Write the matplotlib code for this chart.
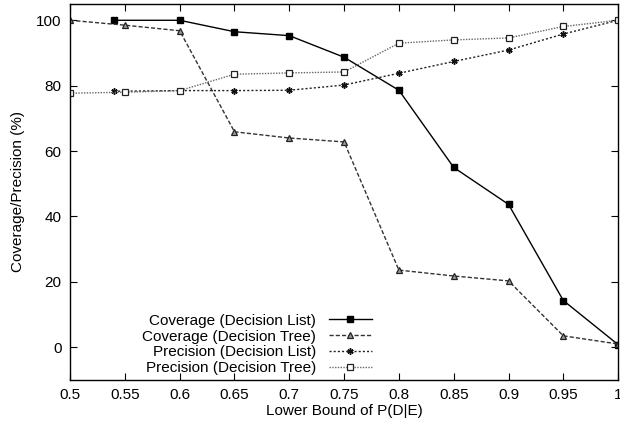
import matplotlib
matplotlib.use("Agg")
from matplotlib import pyplot as plt

plt.rcParams["font.family"] = ["Liberation Sans", "DejaVu Sans"]
plt.rcParams["font.size"] = 11

# data
x_dl = [0.54, 0.6, 0.65, 0.7, 0.75, 0.8, 0.85, 0.9, 0.95, 1.0]
x_dt = [0.5, 0.55, 0.6, 0.65, 0.7, 0.75, 0.8, 0.85, 0.9, 0.95, 1.0]

coverage_dl = [100, 100, 96.5, 95.3, 88.7, 78.6, 55.0, 43.7, 14.3, 0.8]
coverage_dt = [100, 98.5, 96.8, 65.9, 64.0, 62.8, 23.6, 21.8, 20.3, 3.5, 1.0]
precision_dl = [78.3, 78.5, 78.5, 78.6, 80.2, 83.8, 87.4, 90.9, 95.8, 100]
precision_dt = [77.7, 78.0, 78.5, 83.5, 83.9, 84.2, 93.0, 94.0, 94.6, 98.1, 100]

xticks = [0.5, 0.55, 0.6, 0.65, 0.7, 0.75, 0.8, 0.85, 0.9, 0.95, 1.0]
xtick_labels = ["0.5", "0.55", "0.6", "0.65", "0.7", "0.75", "0.8", "0.85", "0.9", "0.95", "1"]
yticks = [0, 20, 40, 60, 80, 100]

fig = plt.figure(figsize=(6.2, 4.23), dpi=100)
ax = fig.add_axes([0.113, 0.1017, 0.884, 0.889])

ax.plot(x_dl, coverage_dl, color="black", lw=1.0, ls="-",
        marker="s", ms=4.5, mfc="black", mec="black",
        label="Coverage (Decision List)")
ax.plot(x_dt, coverage_dt, color="#333333", lw=1.0, ls=(0, (3, 1.5)),
        marker="^", ms=4.5, mfc="#999999", mec="#222222", mew=0.9,
        label="Coverage (Decision Tree)")
ax.plot(x_dl, precision_dl, color="#222222", lw=1.0, ls=(0, (1.5, 1.5)),
        marker=(6, 2, 0), ms=4.5, mec="#111111", mew=1.1,
        label="Precision (Decision List)")
ax.plot(x_dt, precision_dt, color="#666666", lw=1.0, ls=(0, (1, 1)),
        marker="s", ms=4.5, mfc="white", mec="#222222", mew=0.9,
        label="Precision (Decision Tree)")

ax.set_xlim(0.5, 1.0)
ax.set_ylim(-10, 105)
ax.set_xticks(xticks)
ax.set_xticklabels(xtick_labels)
ax.set_yticks(yticks)
ax.tick_params(direction="in", top=True, right=True, length=5, width=0.8, pad=6)
for s in ax.spines.values():
    s.set_linewidth(1.0)

ax.set_xlabel("Lower Bound of P(D|E)", labelpad=1)
ax.set_ylabel("Coverage/Precision (%)", labelpad=8)

ax.legend(loc="lower right", bbox_to_anchor=(0.570, -0.016), frameon=False,
          markerfirst=False, handlelength=2.8, handletextpad=0.85,
          labelspacing=0.12, borderpad=0.2)

fig.savefig("out.png", dpi=100)
